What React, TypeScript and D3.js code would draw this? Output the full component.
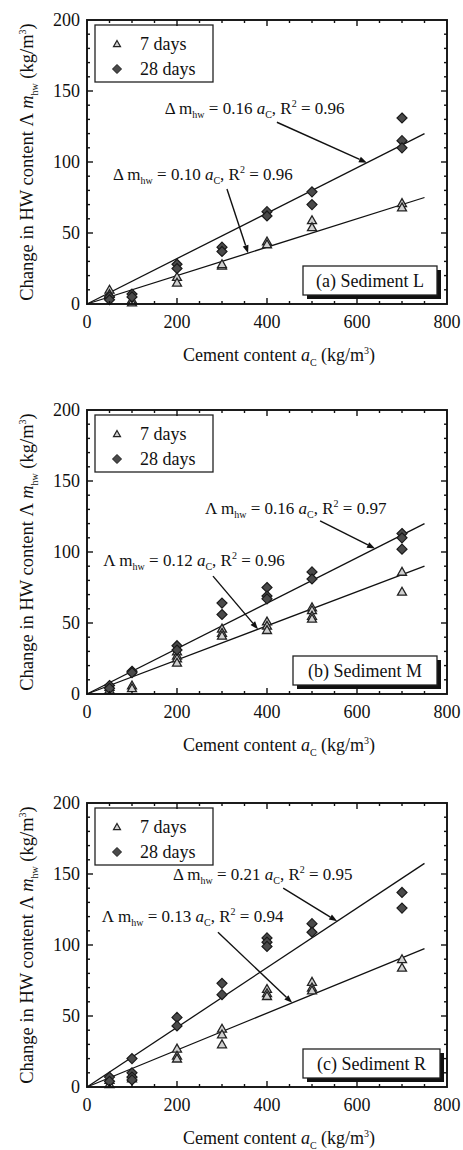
import React from 'react';
import * as d3 from 'd3';

// cement contents tested (kg/m3)
const cement = [50, 100, 200, 300, 400, 500, 700];

// change in HW content, replicate readings per cement content
const sedL7 = [[10, 7], [3, 1], [19, 15], [27, 28], [44, 42], [59, 54], [71, 68]];
const sedL28 = [[5, 3], [7, 5], [28, 25], [40, 37], [65, 62], [79, 70], [131, 115, 110]];
const sedM7 = [[5, 3], [6, 4], [30, 27, 25, 22], [46, 43, 41], [51, 48, 45], [61, 59, 55, 53], [86, 72]];
const sedM28 = [[6, 4], [16, 15], [34, 31], [64, 56], [75, 69, 67], [86, 81], [113, 110, 102]];
const sedR7 = [[5, 2], [9, 6], [27, 22, 20], [41, 37, 30], [69, 66, 64], [74, 70, 68], [90, 84]];
const sedR28 = [[7, 4], [20, 10, 7, 5], [49, 43], [73, 65], [105, 102, 99], [115, 109], [137, 126]];

// regression slopes [7 days, 28 days]
const slopesL = [0.10, 0.16];
const slopesM = [0.12, 0.16];
const slopesR = [0.13, 0.21];
const r2L = ['0.96', '0.96'];
const r2M = ['0.96', '0.97'];
const r2R = ['0.94', '0.95'];

const panelLabels = ['(a) Sediment L', '(b) Sediment M', '(c) Sediment R'];
const deltaGlyphs = [['Δ', 'Δ'], ['Λ', 'Λ'], ['Λ', 'Δ']];

// annotation anchors in data units: [textA, textV, arrowA, arrowV, hitA]
const notesL = [[58, 87, 311, 81, 358], [173, 134, 422, 128, 622]];
const notesM = [[36, 90, 280, 83, 380], [262, 127, 518, 122, 640]];
const notesR = [[33, 116, 291, 109, 456], [191, 146, 436, 140, 556]];

const xTicks = [0, 200, 400, 600, 800];
const yTicks = [0, 50, 100, 150, 200];

const FONT = '"Liberation Serif", "Times New Roman", serif';

const panels = [
  { d7: sedL7, d28: sedL28, slopes: slopesL, r2: r2L, notes: notesL, top: 20 },
  { d7: sedM7, d28: sedM28, slopes: slopesM, r2: r2M, notes: notesM, top: 410 },
  { d7: sedR7, d28: sedR28, slopes: slopesR, r2: r2R, notes: notesR, top: 803 },
];

const left = 87, right = 447, plotH = 284;

const tri = (cx: number, cy: number, s = 4.5) =>
  `M${cx},${cy - s}L${cx + s},${cy + s * 0.75}L${cx - s},${cy + s * 0.75}Z`;
const dia = (cx: number, cy: number, s = 5) =>
  `M${cx},${cy - s}L${cx + s},${cy}L${cx},${cy + s}L${cx - s},${cy}Z`;

function Equation({ x, y, delta, slope, r2 }: any) {
  return (
    <text x={x} y={y} fontFamily={FONT} fontSize={17} fill="#111">
      <tspan>{delta} m</tspan>
      <tspan fontSize={10} dy={4}>hw</tspan>
      <tspan dy={-4}>{` = ${slope.toFixed(2)} `}</tspan>
      <tspan fontStyle="italic">a</tspan>
      <tspan fontSize={10} dy={4}>C</tspan>
      <tspan dy={-4}>, R</tspan>
      <tspan fontSize={10} dy={-7}>2</tspan>
      <tspan dy={7}> = {r2}</tspan>
    </text>
  );
}

function Panel({ p, idx }: any) {
  const x = d3.scaleLinear().domain([0, 800]).range([left, right]);
  const y = d3.scaleLinear().domain([0, 200]).range([p.top + plotH, p.top]);
  const y0 = y(0), y200 = y(200);

  const minorY = d3.range(10, 200, 10);
  const minorX = d3.range(50, 800, 50);

  const boxX = idx === 1 ? 293 : 303;
  const boxW = idx === 2 ? 137 : idx === 1 ? 144 : 134;
  const boxTop = y0 - 38;

  return (
    <g>
      {/* regression lines */}
      {p.slopes.map((s: number, i: number) => (
        <line key={i} x1={x(0)} y1={y(0)} x2={x(750)} y2={y(750 * s)} stroke="#111" strokeWidth={1.3} />
      ))}

      {/* data */}
      {cement.map((c, i) =>
        p.d7[i].map((v: number, j: number) => (
          <path key={`t${i}-${j}`} d={tri(x(c), y(v))} fill="#d0d0d0" stroke="#222" strokeWidth={1.3} />
        ))
      )}
      {cement.map((c, i) =>
        p.d28[i].map((v: number, j: number) => (
          <path key={`d${i}-${j}`} d={dia(x(c), y(v))} fill="#4a4a4a" stroke="#1a1a1a" strokeWidth={1.2} />
        ))
      )}

      {/* equations */}
      {p.notes.map((n: number[], i: number) => {
        const sx = x(n[2]), sy = y(n[3]);
        const ex = x(n[4]), ey = y(n[4] * p.slopes[i]);
        const ang = Math.atan2(ey - sy, ex - sx);
        const L = 8, W = 3;
        const bx = ex - L * Math.cos(ang), by = ey - L * Math.sin(ang);
        const head = `M${ex},${ey}L${bx + W * Math.sin(ang)},${by - W * Math.cos(ang)}L${bx - W * Math.sin(ang)},${by + W * Math.cos(ang)}Z`;
        return (
          <g key={i}>
            <Equation x={x(n[0])} y={y(n[1])} delta={deltaGlyphs[idx][i]} slope={p.slopes[i]} r2={p.r2[i]} />
            <line x1={sx} y1={sy} x2={bx} y2={by} stroke="#111" strokeWidth={1.4} />
            <path d={head} fill="#111" />
          </g>
        );
      })}

      {/* legend */}
      <rect x={95} y={p.top + 5} width={118} height={57} fill="#fff" stroke="#222" strokeWidth={1.3} />
      <path d={tri(117, p.top + 24, 3.5)} fill="#d0d0d0" stroke="#222" strokeWidth={1.2} />
      <text x={140} y={p.top + 30} fontFamily={FONT} fontSize={18} fill="#111">7 days</text>
      <path d={dia(117, p.top + 49, 4.5)} fill="#4a4a4a" stroke="#1a1a1a" strokeWidth={1} />
      <text x={140} y={p.top + 55} fontFamily={FONT} fontSize={18} fill="#111">28 days</text>

      {/* panel label with shadow */}
      <rect x={boxX + 4} y={boxTop + 4} width={boxW} height={29} fill="#111" />
      <rect x={boxX} y={boxTop} width={boxW} height={29} fill="#fff" stroke="#222" strokeWidth={1.3} />
      <text x={boxX + boxW / 2} y={boxTop + 21} textAnchor="middle" fontFamily={FONT} fontSize={18} fill="#111">
        {panelLabels[idx]}
      </text>

      {/* frame and ticks */}
      <rect x={left} y={y200} width={right - left} height={y0 - y200} fill="none" stroke="#111" strokeWidth={1.9} />
      {minorY.map(v => {
        const len = v % 50 === 0 ? 6 : 3;
        return (
          <g key={`yt${v}`}>
            <line x1={left} x2={left + len} y1={y(v)} y2={y(v)} stroke="#111" strokeWidth={1.4} />
            <line x1={right} x2={right - len} y1={y(v)} y2={y(v)} stroke="#111" strokeWidth={1.4} />
          </g>
        );
      })}
      {minorX.map(v => {
        const len = v % 200 === 0 ? 6 : 3;
        return (
          <g key={`xt${v}`}>
            <line x1={x(v)} x2={x(v)} y1={y0} y2={y0 - len} stroke="#111" strokeWidth={1.4} />
            <line x1={x(v)} x2={x(v)} y1={y200} y2={y200 + len} stroke="#111" strokeWidth={1.4} />
          </g>
        );
      })}

      {yTicks.map(v => (
        <text key={`yl${v}`} x={80} y={y(v) + 6} textAnchor="end" fontFamily={FONT} fontSize={18} fill="#111">{v}</text>
      ))}
      {xTicks.map(v => (
        <text key={`xl${v}`} x={x(v)} y={y0 + 24} textAnchor="middle" fontFamily={FONT} fontSize={18} fill="#111">{v}</text>
      ))}

      {/* axis titles */}
      <text x={279} y={y0 + 57} textAnchor="middle" fontFamily={FONT} fontSize={18} fill="#111">
        <tspan>Cement content  </tspan>
        <tspan fontStyle="italic">a</tspan>
        <tspan fontSize={10} dy={5}>C</tspan>
        <tspan dy={-5}> (kg/m</tspan>
        <tspan fontSize={10} dy={-7}>3</tspan>
        <tspan dy={7}>)</tspan>
      </text>
      <text transform={`translate(33,${(y0 + y200) / 2}) rotate(-90)`} textAnchor="middle" fontFamily={FONT} fontSize={18.5} fill="#111">
        <tspan>Change in HW content  Λ </tspan>
        <tspan fontStyle="italic">m</tspan>
        <tspan fontSize={10} dy={5}>hw</tspan>
        <tspan dy={-5}> (kg/m</tspan>
        <tspan fontSize={10} dy={-7}>3</tspan>
        <tspan dy={7}>)</tspan>
      </text>
    </g>
  );
}

export default function App() {
  return (
    <svg width={463} height={1150} style={{ position: 'absolute', left: 0, top: 0, background: '#fff' }}>
      <rect width={463} height={1150} fill="#fff" />
      {panels.map((p, i) => <Panel key={i} p={p} idx={i} />)}
    </svg>
  );
}
